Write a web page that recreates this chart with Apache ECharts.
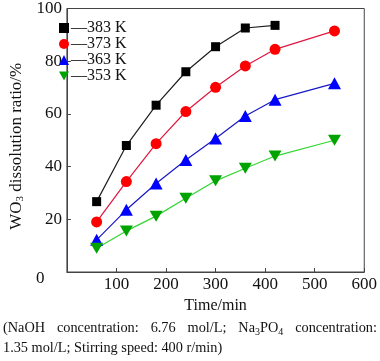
<!DOCTYPE html>
<html><head><meta charset="utf-8">
<script src="https://cdn.jsdelivr.net/npm/echarts@6/dist/echarts.min.js"></script>
<style>
html,body{margin:0;padding:0;background:#fff;}
#c{width:380px;height:361px;position:absolute;left:0;top:0;}
#cap{position:absolute;left:3px;top:317px;width:374px;font-family:"Liberation Serif","Times New Roman",serif;font-size:14.3px;line-height:20px;color:#111;}
#cap .l1{white-space:nowrap;display:flex;justify-content:space-between;}
#cap sub{font-size:10px;vertical-align:-3px;line-height:0;}
</style></head>
<body>
<div id="c"></div>
<div id="cap"><div class="l1"><span>(NaOH</span><span>concentration:</span><span>6.76</span><span>mol/L;</span><span>Na<sub>3</sub>PO<sub>4</sub></span><span>concentration:</span></div><div>1.35 mol/L; Stirring speed: 400 r/min)</div></div>
<script>
const time383 = [60, 120, 180, 240, 300, 360, 420];
const ratio383 = [26.7, 48.0, 63.3, 76.0, 85.5, 92.6, 93.6];
const timeOther = [60, 120, 180, 240, 300, 360, 420, 540];
const ratio373 = [19.0, 34.3, 48.7, 60.9, 70.1, 78.2, 84.5, 91.5];
const ratio363 = [12.2, 23.6, 33.6, 42.5, 50.7, 59.2, 65.4, 71.6];
const ratio353 = [9.0, 15.6, 21.2, 28.0, 34.6, 39.4, 44.0, 50.0];
const seriesNames = ['383 K', '373 K', '363 K', '353 K'];
const xTicks = [0, 100, 200, 300, 400, 500, 600];
const yTicks = [0, 20, 40, 60, 80, 100];

const pairs = (xs, ys) => xs.map((x, i) => [x, ys[i]]);
const font = '"Liberation Serif","Times New Roman",serif';
const downTri = 'path://M0,0 L10,0 L5,9 Z';
const icons = ['rect', 'circle', 'triangle', downTri];

const chart = echarts.init(document.getElementById('c'), null, {renderer: 'canvas'});
const mk = (name, data, symbol, size, lineColor, markColor) => ({
  name, type: 'line', data, symbol, symbolSize: size,
  lineStyle: {color: lineColor, width: 1.2},
  itemStyle: {color: markColor, borderWidth: 0},
  emphasis: {disabled: true}, animation: false
});
chart.setOption({
  animation: false,
  grid: {left: 46, top: 5, width: 323, height: 267, show: true, borderColor: '#444', borderWidth: 1},
  legend: {
    left: 59, top: 20, padding: 0, orient: 'vertical', itemGap: 0, itemWidth: 10, itemHeight: 10,
    data: seriesNames.map((n, i) => ({name: n, icon: icons[i]})),
    formatter: n => '\u2014' + n,
    textStyle: {fontFamily: font, fontSize: 16, lineHeight: 16, color: '#111', padding: [0, 0, 0, -3]},
    selectedMode: false
  },
  graphic: [{type: 'text', left: 36, top: 270, style: {text: '0', font: '17px ' + font, fill: '#111'}}],
  xAxis: {
    type: 'value', min: xTicks[0], max: xTicks[xTicks.length - 1], interval: 100,
    name: 'Time/min', nameLocation: 'middle', nameGap: 22,
    nameTextStyle: {fontFamily: font, fontSize: 16, color: '#111'},
    axisLine: {lineStyle: {color: '#444', width: 1}},
    axisTick: {inside: true, length: 4, lineStyle: {color: '#444'}},
    axisLabel: {fontFamily: font, fontSize: 17, color: '#111', margin: 4,
      formatter: v => v === 0 ? '' : String(v)},
    splitLine: {show: false}
  },
  yAxis: {
    type: 'value', min: yTicks[0], max: yTicks[yTicks.length - 1], interval: 20,
    name: 'WO{s|3} dissolution ratio/%', nameLocation: 'middle', nameGap: 28,
    nameTextStyle: {fontFamily: font, fontSize: 17, color: '#111', padding: [0, 12, 0, 0],
      rich: {s: {fontFamily: font, fontSize: 11, color: '#111', verticalAlign: 'bottom', padding: [7, 0, 0, 0]}}},
    axisLine: {show: true, lineStyle: {color: '#444', width: 1}},
    axisTick: {inside: true, length: 4, lineStyle: {color: '#444'}},
    axisLabel: {fontFamily: font, fontSize: 17, color: '#111', margin: 5,
      formatter: v => v === 0 ? '' : String(v)},
    splitLine: {show: false}
  },
  series: [
    mk(seriesNames[0], pairs(time383, ratio383), icons[0], 9, '#1e1e1e', '#000000'),
    mk(seriesNames[1], pairs(timeOther, ratio373), icons[1], 11, '#e0163f', '#ff0000'),
    mk(seriesNames[2], pairs(timeOther, ratio363), icons[2], [13, 12], '#1818c8', '#0000ff'),
    mk(seriesNames[3], pairs(timeOther, ratio353), icons[3], [13, 11], '#33d633', '#00a300')
  ]
});
</script>
</body></html>
